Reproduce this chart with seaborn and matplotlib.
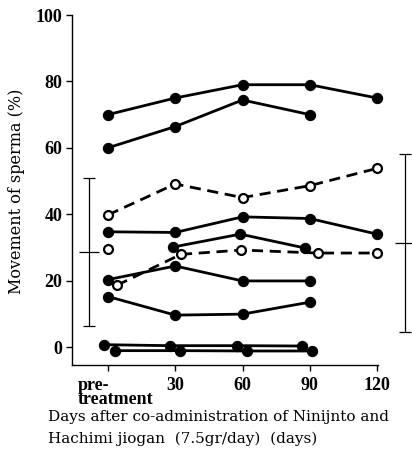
import matplotlib
matplotlib.use("Agg")
import numpy as np
import pandas as pd
import seaborn as sns
import matplotlib.pyplot as plt
from matplotlib.transforms import ScaledTranslation

# ---------------- data ----------------
x_ticks = [0, 30, 60, 90, 120]
x_ticklabels = ["pre-\ntreatment", "30", "60", "90", "120"]
y_ticks = [0, 20, 40, 60, 80, 100]

# filled circles, solid lines
a_days = [0, 30, 60, 90, 120]
a_vals = [70, 75, 79, 79, 75]
b_days = [0, 30, 60, 90]
b_vals = [60, 66.4, 74.4, 70]
c_days = [0, 30, 60, 90, 120]
c_vals = [34.7, 34.5, 39.2, 38.7, 34.0]
d_days = [29, 59, 88]
d_vals = [30.1, 34.0, 29.8]
e_days = [0, 30, 60, 90]
e_vals = [20.3, 24.4, 19.9, 19.9]
f_days = [0, 30, 60, 90]
f_vals = [15.2, 9.6, 9.9, 13.5]
g_days = [-2, 27.5, 57.5, 86.5]
g_vals = [0.7, 0.4, 0.4, 0.3]
h_days = [3, 32, 62, 91]
h_vals = [-1.1, -1.1, -1.2, -1.2]

# open circles, dashed lines
p_days = [0, 30, 60, 90, 120]
p_vals = [39.8, 49.1, 45.0, 48.6, 53.8]
q_days = [4, 32.5, 59.5, 93.5, 120]
q_vals = [18.6, 27.9, 29.2, 28.3, 28.3]
# lone open circle
r_days = [0]
r_vals = [29.6]

# mean with range (pre-treatment and post)
bar_days = [-8.5, 132.5]
bar_mean = [28.7, 31.2]
bar_low = [6.4, 4.6]
bar_high = [51.0, 58.0]

# ---------------- figure ----------------
sns.set_style("ticks")
plt.rcParams["font.family"] = ["Liberation Serif", "DejaVu Serif"]
plt.rcParams["text.color"] = "black"

fig = plt.figure(figsize=(4.12, 4.65), dpi=100)
ax = fig.add_axes([72 / 412, 1 - 365 / 465, 1 - 72 / 412, (365 - 15) / 465])

LW = 2.0
solid = [(a_days, a_vals), (b_days, b_vals), (c_days, c_vals), (d_days, d_vals),
         (e_days, e_vals), (f_days, f_vals), (g_days, g_vals), (h_days, h_vals)]
for dx, dy in solid:
    sns.lineplot(x=dx, y=dy, ax=ax, color="black", lw=LW, marker="o",
                 markersize=7.4, markerfacecolor="black", markeredgecolor="black",
                 sort=False, estimator=None, zorder=3)

dashed = [(p_days, p_vals), (q_days, q_vals)]
for dx, dy in dashed:
    sns.lineplot(x=dx, y=dy, ax=ax, color="black", lw=LW, marker="o",
                 linestyle=(0, (4, 2.4)),
                 markersize=6.4, markerfacecolor="white", markeredgecolor="black",
                 markeredgewidth=1.6, sort=False, estimator=None, zorder=4)

sns.lineplot(x=r_days, y=r_vals, ax=ax, color="black", lw=0, marker="o",
             markersize=6.4, markerfacecolor="white", markeredgecolor="black",
             markeredgewidth=1.6, estimator=None, zorder=4)

bm = np.array(bar_mean)
yerr = np.vstack([bm - np.array(bar_low), np.array(bar_high) - bm])
ax.errorbar(bar_days, bm, yerr=yerr, fmt="_", color="black", ecolor="black",
            elinewidth=0.9, capsize=4.3, capthick=0.9, markersize=14,
            markeredgewidth=0.9, clip_on=False, zorder=2)

px_per_day = 269 / 120
ax.set_xlim(-36 / px_per_day, (412 - 108) / px_per_day)
ax.set_ylim(-18 / 3.32, 100)

sns.despine(ax=ax)
ax.spines["bottom"].set_bounds(ax.get_xlim()[0], 120.5)
ax.spines["left"].set_bounds(ax.get_ylim()[0], 100)
for sp in ("left", "bottom"):
    ax.spines[sp].set_linewidth(1.0)
    ax.spines[sp].set_color("black")

ax.set_yticks(y_ticks)
ax.set_yticklabels([str(v) for v in y_ticks])
ax.set_xticks(x_ticks)
ax.set_xticklabels(x_ticklabels)
ax.tick_params(axis="both", direction="out", length=4.5, width=1.0, color="black",
               labelsize=13, labelcolor="black")
ax.tick_params(axis="y", pad=2.5)
ax.tick_params(axis="x", pad=4.5)
for lab in ax.get_xticklabels() + ax.get_yticklabels():
    lab.set_fontweight("bold")
first = ax.get_xticklabels()[0]
first.set_horizontalalignment("left")
first.set_multialignment("left")
first.set_linespacing(0.72)
first.set_transform(first.get_transform() + ScaledTranslation(-30 / 100, 0, fig.dpi_scale_trans))

ax.set_xlabel("")
ax.set_ylabel("")
ax.grid(False)

lab_font = "DejaVu Serif"
fig.text(17 / 412, 1 - 191 / 465, "Movement of sperma (%)", rotation=90,
         ha="center", va="center", fontsize=11.5, family=lab_font, color="black")
fig.text(48 / 412, 1 - 421 / 465, "Days after co-administration of Ninijnto and",
         ha="left", va="baseline", fontsize=11, family=lab_font, color="black")
fig.text(48 / 412, 1 - 443 / 465, "Hachimi jiogan  (7.5gr/day)  (days)",
         ha="left", va="baseline", fontsize=11, family=lab_font, color="black")

fig.savefig("out.png", dpi=100)
